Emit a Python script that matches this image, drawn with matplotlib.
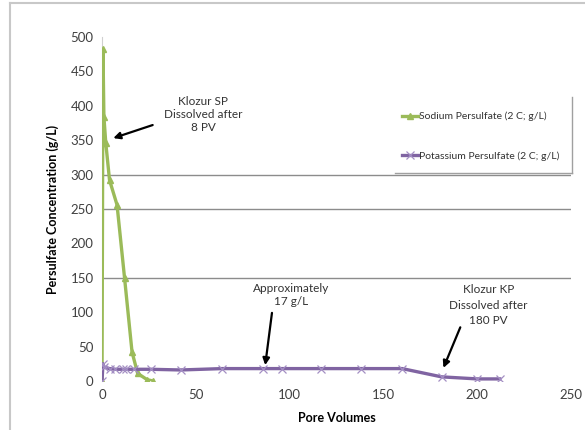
import matplotlib
matplotlib.use("Agg")
import matplotlib.pyplot as plt
from matplotlib.lines import Line2D

plt.rcParams['font.family'] = ['Lato', 'DejaVu Sans']

# sodium persulfate (green triangles)
sodium_pv = [0, 0.5, 1, 2, 4, 8, 12, 16, 19, 24, 27]
sodium_conc = [0, 482, 384, 346, 292, 256, 150, 42, 11, 2, 0]

# potassium persulfate (purple crosses)
potassium_pv = [0, 0.5, 1, 4, 7, 11, 13, 17, 26, 42, 64, 86, 96, 117, 138, 160, 181, 200, 212]
potassium_conc = [0, 25, 20, 18, 17, 17, 17, 17, 17, 16, 18, 18, 18, 18, 18, 18, 6, 3, 3]

grid_levels = [150, 250, 300]
x_ticks = [0, 50, 100, 150, 200, 250]
y_ticks = [0, 50, 100, 150, 200, 250, 300, 350, 400, 450, 500]

green = '#9BBB59'
purple = '#8064A2'

fig = plt.figure(figsize=(5.85, 4.3), dpi=100)
ax = fig.add_axes([0.1744, 0.114, 0.8016, 0.800])

for g in grid_levels:
    ax.axhline(g, color='#8c8c8c', lw=1.0, zorder=1)

ax.plot(sodium_pv, sodium_conc, color=green, lw=2.4, marker='^', ms=5,
        label='Sodium Persulfate (2 C; g/L)', zorder=3)
ax.plot(potassium_pv, potassium_conc, color=purple, lw=2.4, marker='x', ms=6,
        mew=0.9, mec='#a48fc4', label='Potassium Persulfate (2 C; g/L)', zorder=3)

ax.set_xlim(0, 250)
ax.set_ylim(0, 500)
ax.set_xticks(x_ticks)
ax.set_yticks(y_ticks)
ax.tick_params(length=0, labelsize=9.5, colors='#404040', pad=6)
for s in ['top', 'right', 'bottom']:
    ax.spines[s].set_visible(False)
ax.spines['left'].set_color('#d0d0d0')

ax.set_xlabel('Pore Volumes', fontsize=9, fontweight='bold', labelpad=8)
ax.set_ylabel('Persulfate Concentration (g/L)', fontsize=9, fontweight='bold', labelpad=8)

arrow = dict(arrowstyle='-|>', color='black', lw=1.6, shrinkA=0, shrinkB=0,
             mutation_scale=10)

ax.text(54, 387, 'Klozur SP\nDissolved after\n8 PV', ha='center', va='center',
        fontsize=8.5, color='#333333')
ax.annotate('', xy=(6, 353), xytext=(27, 372), arrowprops=arrow)
ax.text(101, 125, 'Approximately\n17 g/L', ha='center', va='center',
        fontsize=8.5, color='#333333')
ax.annotate('', xy=(87, 23), xytext=(90.6, 99), arrowprops=arrow)
ax.text(206, 110, 'Klozur KP\nDissolved after\n180 PV', ha='center', va='center',
        fontsize=8.5, color='#333333', linespacing=1.5)
ax.annotate('', xy=(182, 19), xytext=(191, 78), arrowprops=arrow)

leg = ax.legend(loc='upper left', bbox_to_anchor=(0.63, 0.795), frameon=False,
                fontsize=7.5, handlelength=1.6, handletextpad=0.1, labelspacing=2.9,
                borderaxespad=0)
for t in leg.get_texts():
    t.set_color('#333333')

# partial legend box edges and chart-area border
fig.add_artist(Line2D([572 / 585, 572 / 585], [1 - 97 / 430, 1 - 173 / 430],
                      color='#a0a0a0', lw=1.0))
fig.add_artist(Line2D([395 / 585, 572 / 585], [1 - 173 / 430, 1 - 173 / 430],
                      color='#a0a0a0', lw=1.0))
fig.add_artist(Line2D([10 / 585, 10 / 585], [0, 1 - 3 / 430], color='#c8c8c8', lw=1.5))
fig.add_artist(Line2D([10 / 585, 1], [1 - 3 / 430, 1 - 3 / 430], color='#c8c8c8', lw=1.5))

fig.savefig('out.png', dpi=100)
